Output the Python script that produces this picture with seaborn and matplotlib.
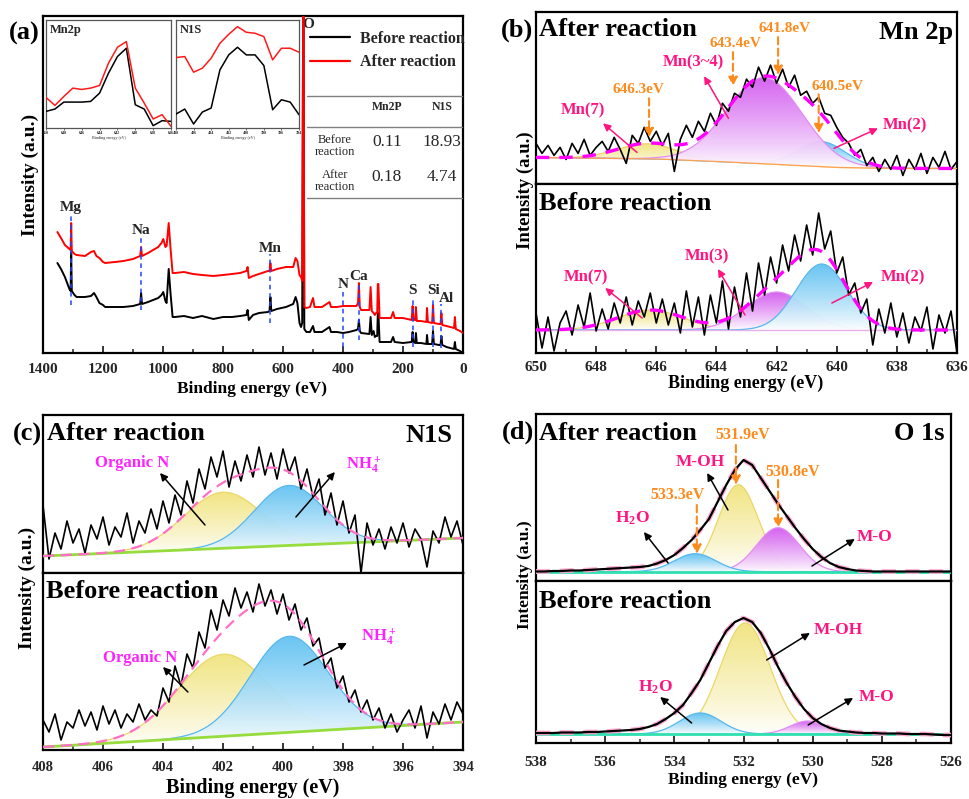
import numpy as np
import matplotlib
matplotlib.use('Agg')
import matplotlib.pyplot as plt
import seaborn as sns
from matplotlib.ticker import MultipleLocator, NullLocator
from matplotlib.colors import to_rgb
from matplotlib.lines import Line2D

# ======================= DATA =======================
# (a) survey spectra
survey_be = [1352, 1340, 1327, 1312, 1308, 1306, 1304, 1295, 1288, 1260,
             1240, 1230, 1222, 1212, 1200, 1193, 1160, 1132, 1100, 1076,
             1073, 1070, 1050, 1016, 1005, 999, 992, 988, 981, 975,
             968, 960, 930, 900, 870, 832, 800, 770, 743, 722,
             718, 714, 700, 680, 650, 645, 642, 639, 620, 590,
             566, 558, 552, 545, 540, 536, 532, 529, 522, 510,
             500, 495, 470, 445, 440, 420, 400, 380, 355, 350,
             347, 344, 340, 312, 308, 304, 298, 294, 290, 286,
             284, 282, 278, 270, 240, 233, 228, 200, 171, 168,
             165, 159, 157, 154, 140, 122, 120, 117, 103, 100,
             97, 80, 75, 72, 69, 55, 30, 27, 24, 10, 0]
survey_before = [90, 84, 76, 64, 62, 101, 62, 58, 56, 56,
                 57, 60, 56, 50, 48, 46, 46, 46, 47, 49,
                 60, 49, 51, 55, 58, 61, 52, 50, 84, 60,
                 36, 36, 37, 35, 37, 34, 36, 36, 37, 38,
                 43, 33, 38, 40, 41, 42, 56, 42, 44, 46,
                 49, 56, 50, 30, 26, 30, 420, 24, 21, 21,
                 27, 21, 21, 26, 21, 21, 20, 21, 23, 24,
                 33, 22, 20, 19, 36, 18, 22, 16, 17, 17,
                 40, 40, 11, 11, 11, 16, 11, 10, 11, 21,
                 11, 10, 20, 10, 10, 9, 18, 9, 9, 22,
                 9, 8, 8, 17, 8, 6, 4, 11, 4, 2, 0]
survey_after = [121, 115, 108, 104, 103, 130, 102, 99, 98, 97,
                101, 102, 97, 95, 91, 90, 91, 92, 94, 97,
                106, 97, 100, 106, 110, 114, 106, 107, 130, 105,
                80, 80, 81, 79, 78, 77, 78, 79, 80, 82,
                86, 75, 77, 79, 82, 82, 90, 82, 84, 86,
                86, 95, 92, 78, 76, 72, 420, 46, 45, 46,
                55, 46, 46, 51, 46, 46, 47, 47, 47, 50,
                70, 46, 43, 43, 66, 42, 40, 38, 40, 40,
                69, 69, 35, 35, 35, 41, 35, 35, 33, 47,
                33, 33, 46, 32, 32, 31, 45, 31, 30, 48,
                30, 29, 29, 40, 28, 27, 25, 36, 24, 22, 20]
elements = ['Mg', 'Na', 'Mn', 'N', 'Ca', 'S', 'Si', 'Al']
element_be = [1306, 1073, 642, 400, 347, 168, 100, 72]
element_lo = [48, 43, 30, 6, 13, 6, 6, 5]
element_hi = [140, 116, 99, 62, 71, 56, 56, 49]

# (a) insets
inset_mn_be = [650, 649, 648, 647, 646, 645, 644, 643, 642, 641, 640, 639, 638, 637, 636]
inset_mn_before = [50, 57, 78, 78, 78, 80, 105, 165, 215, 240, 70, 57, 7, 22, 20]
inset_mn_after = [92, 68, 95, 120, 116, 120, 128, 195, 243, 260, 120, 75, 27, 40, 5]
inset_n_be = [408, 407, 406, 405, 404, 403, 402, 401, 400, 399, 398, 397, 396, 395, 394]
inset_n_before = [42, 57, 12, 48, 60, 175, 220, 243, 220, 220, 188, 55, 85, 78, 40]
inset_n_after = [212, 215, 168, 180, 210, 255, 282, 305, 288, 285, 275, 205, 240, 240, 228]

table_cols = ['Mn2P', 'N1S']
table_rows = ['Before\nreaction', 'After\nreaction']
table_vals = [['0.11', '18.93'], ['0.18', '4.74']]

# (b) Mn 2p, 650 -> 636 eV in 0.2 eV steps
mn_after = [40, 30, 38, 28, 36, 24, 40, 30, 44, 28,
            36, 42, 32, 46, 34, 20, 48, 40, 56, 42,
            52, 38, 50, 12, 44, 58, 46, 62, 52, 70,
            58, 80, 72, 90, 86, 104, 96, 116, 102, 118,
            100, 114, 96, 108, 88, 92, 80, 86, 70, 68,
            56, 46, 40, 28, 34, 18, 26, 12, 24, 14,
            28, 8, 24, 14, 30, 10, 26, 16, 32, 14,
            22]
mn_before = [40, 5, 36, 2, 30, 42, 18, 48, 26, 60,
             22, 44, 24, 50, 30, 56, 28, 52, 36, 60,
             30, 54, 28, 50, 20, 62, 26, 56, 18, 58,
             30, 72, 24, 66, 36, 80, 42, 90, 58, 96,
             70, 108, 82, 118, 92, 128, 98, 140, 104, 122,
             80, 96, 58, 70, 40, 54, 8, 44, 20, 50,
             16, 40, 10, 36, 22, 46, 4, 38, 20, 42,
             0]
mn_peaks = ['Mn(7)', 'Mn(3~4)', 'Mn(2)']
mn_after_center = [646.3, 642.4, 640.5]
mn_after_height = [15, 86, 25]
mn_after_width = [1.0, 1.25, 0.8]
mn_after_base_be = [650, 646, 644, 642, 640, 638, 636]
mn_after_base = [26, 24.5, 22, 19, 16, 15, 15]
mn_before_center = [646.2, 642.0, 640.5]
mn_before_height = [20, 38, 66]
mn_before_width = [1.1, 1.0, 0.85]
mn_before_base = 23

# (c) N 1s, 408 -> 394 eV in 0.2 eV steps
n_after = [68, 14, 40, 24, 52, 30, 44, 20, 48, 34,
           56, 28, 46, 36, 60, 30, 52, 40, 64, 44,
           72, 50, 78, 58, 92, 70, 104, 84, 116, 96,
           122, 86, 112, 92, 118, 96, 126, 98, 120, 94,
           124, 100, 116, 84, 104, 76, 94, 58, 80, 48,
           72, 40, 58, 0, 50, 28, 44, 24, 46, 30,
           50, 26, 44, 34, 6, 42, 30, 56, 36, 52,
           28]
n_before = [30, 18, 36, 10, 28, 22, 40, 24, 38, 20,
            44, 26, 40, 22, 36, 28, 46, 30, 40, 34,
            62, 48, 84, 64, 96, 82, 118, 102, 140, 120,
            150, 134, 162, 142, 158, 138, 166, 144, 160, 136,
            156, 130, 146, 120, 132, 104, 112, 82, 92, 62,
            74, 48, 60, 38, 50, 30, 42, 22, 36, 18,
            30, 40, 22, 44, 12, 38, 26, 46, 30, 48,
            36]
n_center = [402.0, 399.8]
n_after_height = [56, 60]
n_after_width = [1.3, 1.15]
n_after_base = [17, 35]
n_before_height = [82, 96]
n_before_width = [1.5, 1.3]
n_before_base = [3, 28]

# (d) O 1s, 538 -> 526 eV in 0.25 eV steps
o_after = [9.5, 9.5, 10, 10, 10.5, 10.5, 11, 11.5, 12, 12.5,
           13, 13.5, 14, 15, 17.5, 21, 26, 33, 41, 51,
           62, 79, 96, 111, 121, 116, 103, 90, 77, 65,
           53, 42, 32, 24, 18, 14, 12, 10.5, 10, 9.5,
           9.5, 9.5, 9.5, 9.5, 9.5, 9.5, 9.5, 9.5, 9.5]
o_before = [10, 10, 10, 10.5, 10.5, 10.5, 11, 11, 11.5, 12,
            12.5, 13, 14, 16, 19, 24, 30, 38, 50, 63,
            80, 97, 112, 121, 125, 121, 110, 94, 76, 60,
            46, 34, 25, 19, 15, 12.5, 11.5, 10.5, 10, 10,
            9.5, 9.5, 9.5, 9, 9, 9, 8.5, 8, 8]
o_after_center = [533.4, 532.15, 531.0]
o_after_height = [18, 87, 44]
o_after_width = [0.6, 0.58, 0.62]
o_after_base = 9.3
o_before_center = [533.25, 531.95, 530.15]
o_before_height = [21, 111, 13]
o_before_width = [0.6, 0.72, 0.5]
o_before_base = 9

# ======================= STYLE =======================
sns.set_style('ticks')
plt.rcParams['font.family'] = ['Liberation Serif', 'DejaVu Serif']
plt.rcParams['font.weight'] = 'bold'
plt.rcParams['mathtext.fontset'] = 'custom'
plt.rcParams['mathtext.rm'] = 'Liberation Serif:bold'
plt.rcParams['mathtext.it'] = 'Liberation Serif:bold'
plt.rcParams['mathtext.bf'] = 'Liberation Serif:bold'

W, H = 969, 799
fig = plt.figure(figsize=(W / 100, H / 100), dpi=100)
fig.patch.set_facecolor('white')

YEL, YEL_E = '#f1e47e', '#e9d868'
PUR, PUR_E = '#d35cf0', '#e38cf5'
BLU, BLU_E = '#62c2f2', '#56b8ee'
PINK = '#ff1480'
MAG = '#ff22ff'
ORANGE = '#ff8a1c'


def rect(x0, y0, x1, y1):
    return [x0 / W, 1 - y1 / H, (x1 - x0) / W, (y1 - y0) / H]


def ftext(px, py, s, size, ha='center', va='center', color='black', weight='bold', **kw):
    fig.text(px / W, 1 - py / H, s, fontsize=size, ha=ha, va=va, color=color,
             fontweight=weight, **kw)


def style_axis(ax, xlim, ylim, major=2, minor=1, labels=True, labelsize=11, pad=6):
    ax.set_xlim(*xlim)
    ax.set_ylim(*ylim)
    ax.set_yticks([])
    ax.set_xlabel('')
    ax.set_ylabel('')
    ax.set_facecolor('white')
    for sp in ax.spines.values():
        sp.set_visible(True)
        sp.set_linewidth(1.6)
        sp.set_color('black')
    if labels:
        ax.xaxis.set_major_locator(MultipleLocator(major))
        ax.xaxis.set_minor_locator(MultipleLocator(minor))
        ax.tick_params(axis='x', which='major', direction='in', length=5, width=1.3,
                       labelsize=labelsize, pad=pad, top=False)
        ax.tick_params(axis='x', which='minor', direction='in', length=3, width=1.1, top=False)
        for t in ax.get_xticklabels():
            t.set_fontweight('bold')
    else:
        ax.set_xticks([])
        ax.xaxis.set_minor_locator(NullLocator())


def gauss(x, c, h, s):
    return h * np.exp(-(x - c) ** 2 / (2 * s * s))


def grad_fill(ax, x, base, comp, color, edge, z=2.0):
    top = base + comp
    poly = ax.fill_between(x, base, top, facecolor='none', edgecolor='none', zorder=z)
    rgb = np.array(to_rgb(color))
    t = np.linspace(0, 1, 256)[:, None] ** 0.85
    cols = (1 - t) * np.ones(3) + t * rgb
    img = np.concatenate([cols, np.full((256, 1), 0.95)], axis=1)[:, None, :]
    im = ax.imshow(img, extent=(x.min(), x.max(), base.min(), top.max()), origin='lower',
                   aspect='auto', zorder=z, interpolation='bilinear')
    im.set_clip_path(poly.get_paths()[0], transform=ax.transData)
    ax.plot(x, top, color=edge, lw=0.9, zorder=z + 0.05)


def arrow(ax, tail, head, color, lw=1.1, ls='-', ms=11):
    ax.annotate('', xy=head, xytext=tail, annotation_clip=False,
                arrowprops=dict(arrowstyle='-|>', color=color, lw=lw, linestyle=ls,
                                mutation_scale=ms, shrinkA=0, shrinkB=0), zorder=8)


def oarrow(ax, x, y0, y1):
    ax.annotate('', xy=(x, y1), xytext=(x, y0), annotation_clip=False,
                arrowprops=dict(arrowstyle='-|>', color=ORANGE, lw=1.5, linestyle=(0, (3.5, 2)),
                                mutation_scale=13, shrinkA=0, shrinkB=0), zorder=8)


def spectrum(ax, x, y, color='black', lw=1.2, z=4, ls='-'):
    sns.lineplot(x=np.asarray(x, float), y=np.asarray(y, float), ax=ax, color=color,
                 lw=lw, estimator=None, sort=False, zorder=z, linestyle=ls)


# ======================= (a) SURVEY =======================
axA = fig.add_axes(rect(43, 16, 463, 353))
spectrum(axA, survey_be, survey_before, 'black', 1.4, 3)
spectrum(axA, survey_be, survey_after, '#ff0000', 1.4, 4)
for el, be, lo, hi in zip(elements, element_be, element_lo, element_hi):
    axA.plot([be, be], [lo, hi], color='#2244ff', lw=1.1, ls=(0, (3, 2.5)), zorder=5)
    dx = -17 if el == 'Al' else 0
    axA.text(be + dx, hi + 6, el, fontsize=11, ha='center', va='center', zorder=6)
style_axis(axA, (1400, 0), (0, 337), major=200, minor=100, labelsize=11, pad=7)
axA.text((308 - 43) / 420, (353 - 24) / 337, 'O', transform=axA.transAxes, fontsize=11,
         ha='center', va='center')

leg = axA.legend(handles=[Line2D([], [], color='black', lw=1.6), Line2D([], [], color='red', lw=1.6)],
                 labels=['Before reaction', 'After reaction'], loc='upper left',
                 bbox_to_anchor=((310 - 43) / 420, (353 - 31) / 337), frameon=False,
                 borderaxespad=0, borderpad=0, handlelength=2.5, handletextpad=0.6,
                 labelspacing=0.45, prop={'weight': 'bold', 'size': 11.5,
                                          'family': ['Liberation Serif']})


def ax_a(px, py):
    return ((px - 43) / 420, (353 - py) / 337)


for yy in (96, 127, 198):
    axA.plot([ax_a(307, 0)[0], ax_a(462, 0)[0]], [ax_a(0, yy)[1]] * 2, color='#808080', lw=1.0,
             transform=axA.transAxes, clip_on=False, zorder=6)
for col, cx in zip(table_cols, (387, 442)):
    axA.text(*ax_a(cx, 107), col, transform=axA.transAxes, fontsize=8.5, ha='center', va='center')
for r, (row, ry) in enumerate(zip(table_rows, (146, 181))):
    axA.text(*ax_a(335, ry), row, transform=axA.transAxes, fontsize=9, ha='center', va='center',
             fontweight='normal', linespacing=1.05)
    for c, cx in enumerate((387, 442)):
        axA.text(*ax_a(cx, ry - 4), table_vals[r][c], transform=axA.transAxes, fontsize=12.5,
                 ha='center', va='center', fontweight='normal')

# insets
for (x0, x1), be, before, after, title, xl in (
        ((46, 171), inset_mn_be, inset_mn_before, inset_mn_after, 'Mn2p', (650, 636)),
        ((176, 299), inset_n_be, inset_n_before, inset_n_after, 'N1S', (408, 394))):
    ins = fig.add_axes(rect(x0, 20, x1, 128))
    spectrum(ins, be, before, 'black', 1.1, 3)
    spectrum(ins, be, after, '#ff1a1a', 1.1, 4)
    ins.set_xlim(*xl)
    ins.set_ylim(0, 325)
    ins.set_yticks([])
    ins.set_ylabel('')
    ins.xaxis.set_major_locator(MultipleLocator(2))
    ins.tick_params(axis='x', labelsize=3, length=1.5, width=0.5, pad=0.8, direction='out')
    ins.set_xlabel('Binding energy (eV)', fontsize=3, labelpad=0.5, fontweight='normal')
    for sp in ins.spines.values():
        sp.set_visible(True)
        sp.set_linewidth(0.9)
        sp.set_color('#555555')
    ins.text(0.03, 0.96, title, transform=ins.transAxes, fontsize=9, ha='left', va='top')

ftext(24, 33, '(a)', 19)
ftext(30, 175, 'Intensity (a.u.)', 14, rotation=90)
ftext(252, 389, 'Binding energy (eV)', 12.5)

# ======================= (b) Mn 2p =======================
mn_be = np.linspace(650, 636, len(mn_after))
xs = np.linspace(650, 636, 600)

axB1 = fig.add_axes(rect(536, 12, 957, 183.5))
baseB1 = np.interp(xs, mn_after_base_be[::-1], mn_after_base[::-1])
compB1 = [gauss(xs, c, h, s) for c, h, s in zip(mn_after_center, mn_after_height, mn_after_width)]
grad_fill(axB1, xs, baseB1, compB1[0], YEL, YEL_E, 2.0)
grad_fill(axB1, xs, baseB1, compB1[2], BLU, BLU_E, 2.1)
grad_fill(axB1, xs, baseB1, compB1[1], PUR, PUR_E, 2.2)
axB1.plot(xs, baseB1, color='#ffa050', lw=0.9, zorder=3)
spectrum(axB1, mn_be, mn_after, 'black', 1.2, 4)
axB1.plot(xs, baseB1 + sum(compB1), color='#ff00ff', lw=2.4, ls=(0, (4, 3)), zorder=5)
style_axis(axB1, (650, 636), (0, 171), labels=False)

axB2 = fig.add_axes(rect(536, 183.5, 957, 353))
baseB2 = np.full_like(xs, mn_before_base)
compB2 = [gauss(xs, c, h, s) for c, h, s in zip(mn_before_center, mn_before_height, mn_before_width)]
grad_fill(axB2, xs, baseB2, compB2[0], YEL, YEL_E, 2.0)
grad_fill(axB2, xs, baseB2, compB2[1], PUR, PUR_E, 2.1)
grad_fill(axB2, xs, baseB2, compB2[2], BLU, BLU_E, 2.2)
axB2.plot(xs, baseB2, color='#e8b0e8', lw=1.0, zorder=3)
spectrum(axB2, mn_be, mn_before, 'black', 1.2, 4)
axB2.plot(xs, baseB2 + sum(compB2), color='#ff00ff', lw=2.4, ls=(0, (4, 3)), zorder=5)
style_axis(axB2, (650, 636), (0, 169.5), labelsize=11, pad=6)

# annotations (b)
axB1.text(644.78, 121, 'Mn(3~4)', color=PINK, fontsize=12, ha='center', va='center', zorder=9)
arrow(axB1, (643.6, 65), (644.41, 107), PINK)
axB1.text(648.44, 73, 'Mn(7)', color=PINK, fontsize=12, ha='center', va='center', zorder=9)
arrow(axB1, (646.64, 31), (647.77, 60), PINK)
axB1.text(637.73, 58, 'Mn(2)', color=PINK, fontsize=12, ha='center', va='center', zorder=9)
arrow(axB1, (640.09, 35), (638.63, 55), PINK)
for lab, tx, ty, ax_x, y0, y1 in (('641.8eV', 641.72, 155, 641.95, 146, 108),
                                  ('643.4eV', 643.38, 140, 643.45, 131, 97),
                                  ('646.3eV', 646.61, 94, 646.24, 85, 46),
                                  ('640.5eV', 639.96, 97, 640.6, 89, 50)):
    axB1.text(tx, ty, lab, color=ORANGE, fontsize=11, ha='center', va='center', zorder=9)
    oarrow(axB1, ax_x, y0, y1)
axB2.text(648.34, 76, 'Mn(7)', color=PINK, fontsize=12, ha='center', va='center', zorder=9)
arrow(axB2, (646.47, 35), (647.7, 65), PINK)
axB2.text(644.31, 97, 'Mn(3)', color=PINK, fontsize=12, ha='center', va='center', zorder=9)
arrow(axB2, (643.05, 38), (643.95, 84), PINK)
axB2.text(637.8, 76, 'Mn(2)', color=PINK, fontsize=12, ha='center', va='center', zorder=9)
arrow(axB2, (640.16, 50), (638.79, 71), PINK)

ftext(517, 30, '(b)', 19)
ftext(539, 30, 'After reaction', 19, ha='left')
ftext(953, 32, 'Mn 2p', 19, ha='right')
ftext(539, 203, 'Before reaction', 19, ha='left')
ftext(525, 190, 'Intensity (a.u.)', 13.5, rotation=90)
ftext(746, 383, 'Binding energy (eV)', 13)

# ======================= (c) N 1s =======================
n_be = np.linspace(408, 394, len(n_after))
xn = np.linspace(408, 394, 600)

axC1 = fig.add_axes(rect(43, 415, 463, 573))
baseC1 = n_after_base[0] + (n_after_base[1] - n_after_base[0]) * (408 - xn) / 14
compC1 = [gauss(xn, c, h, s) for c, h, s in zip(n_center, n_after_height, n_after_width)]
grad_fill(axC1, xn, baseC1, compC1[0], YEL, YEL_E, 2.0)
grad_fill(axC1, xn, baseC1, compC1[1], BLU, BLU_E, 2.1)
axC1.plot(xn, baseC1, color='#96dc3c', lw=2.0, zorder=3)
spectrum(axC1, n_be, n_after, 'black', 1.2, 4)
axC1.plot(xn, baseC1 + sum(compC1), color='#ff6ec7', lw=1.6, ls=(0, (5, 3)), zorder=5)
style_axis(axC1, (408, 394), (0, 158), labels=False)

axC2 = fig.add_axes(rect(43, 573, 463, 750))
baseC2 = n_before_base[0] + (n_before_base[1] - n_before_base[0]) * (408 - xn) / 14
compC2 = [gauss(xn, c, h, s) for c, h, s in zip(n_center, n_before_height, n_before_width)]
grad_fill(axC2, xn, baseC2, compC2[0], YEL, YEL_E, 2.0)
grad_fill(axC2, xn, baseC2, compC2[1], BLU, BLU_E, 2.1)
axC2.plot(xn, baseC2, color='#96dc3c', lw=2.0, zorder=3)
spectrum(axC2, n_be, n_before, 'black', 1.2, 4)
axC2.plot(xn, baseC2 + sum(compC2), color='#ff6ec7', lw=1.6, ls=(0, (5, 3)), zorder=5)
style_axis(axC2, (408, 394), (0, 177), labelsize=10.5, pad=8)

axC1.text(405.03, 110, 'Organic N', color=MAG, fontsize=12, ha='center', va='center', zorder=9)
arrow(axC1, (402.6, 48), (404.1, 100), 'black')
axC1.text(397.3, 108, r'NH$_4^+$', color=MAG, fontsize=12, ha='center', va='center', zorder=9)
arrow(axC1, (399.57, 56), (398.27, 101), 'black')
axC2.text(404.77, 92, 'Organic N', color=MAG, fontsize=12, ha='center', va='center', zorder=9)
arrow(axC2, (403.17, 58), (404.0, 83), 'black')
axC2.text(396.8, 113, r'NH$_4^+$', color=MAG, fontsize=12, ha='center', va='center', zorder=9)
arrow(axC2, (399.3, 85), (397.87, 107), 'black')

ftext(27, 434, '(c)', 19)
ftext(47, 434, 'After reaction', 19, ha='left')
ftext(452, 435, 'N1S', 19, ha='right')
ftext(46, 592, 'Before reaction', 19, ha='left')
ftext(27, 588, 'Intensity (a.u.)', 14, rotation=90)
ftext(253, 788, 'Binding energy (eV)', 14.5)

# ======================= (d) O 1s =======================
o_be = np.linspace(538, 526, len(o_after))
xo = np.linspace(538, 526, 600)

axD1 = fig.add_axes(rect(536, 414, 951, 581))
baseD1 = np.full_like(xo, o_after_base)
compD1 = [gauss(xo, c, h, s) for c, h, s in zip(o_after_center, o_after_height, o_after_width)]
grad_fill(axD1, xo, baseD1, compD1[1], YEL, YEL_E, 2.0)
grad_fill(axD1, xo, baseD1, compD1[2], PUR, PUR_E, 2.1)
grad_fill(axD1, xo, baseD1, compD1[0], BLU, BLU_E, 2.2)
axD1.plot(xo, baseD1, color='#2fe0b0', lw=2.0, zorder=3)
spectrum(axD1, o_be, o_after, '#ffa8d2', 3.4, 4, ls=(0, (3, 2)))
spectrum(axD1, o_be, o_after, 'black', 1.6, 5)
style_axis(axD1, (538, 526), (0, 167), labels=False)

axD2 = fig.add_axes(rect(536, 581, 951, 743))
baseD2 = np.full_like(xo, o_before_base)
compD2 = [gauss(xo, c, h, s) for c, h, s in zip(o_before_center, o_before_height, o_before_width)]
grad_fill(axD2, xo, baseD2, compD2[1], YEL, YEL_E, 2.0)
grad_fill(axD2, xo, baseD2, compD2[2], PUR, PUR_E, 2.1)
grad_fill(axD2, xo, baseD2, compD2[0], BLU, BLU_E, 2.2)
axD2.plot(xo, baseD2, color='#2fe0b0', lw=2.0, zorder=3)
spectrum(axD2, o_be, o_before, '#ffa8d2', 3.4, 4, ls=(0, (3, 2)))
spectrum(axD2, o_be, o_before, 'black', 1.6, 5)
style_axis(axD2, (538, 526), (0, 162), labelsize=11, pad=9)

axD1.text(533.26, 119, 'M-OH', color=PINK, fontsize=12.5, ha='center', va='center', zorder=9)
arrow(axD1, (532.45, 71), (533.05, 108), 'black')
axD1.text(535.2, 63, r'H$_2$O', color=PINK, fontsize=12.5, ha='center', va='center', zorder=9)
arrow(axD1, (534.18, 18), (534.88, 49), 'black')
axD1.text(528.2, 44, 'M-O', color=PINK, fontsize=12.5, ha='center', va='center', zorder=9)
arrow(axD1, (530.02, 15), (528.78, 42), 'black')
for lab, tx, ty, ax_x, y0, y1 in (('531.9eV', 532.01, 146, 532.22, 136, 96),
                                  ('530.8eV', 530.57, 109, 531.0, 101, 53),
                                  ('533.3eV', 533.92, 86, 533.35, 76, 27)):
    axD1.text(tx, ty, lab, color=ORANGE, fontsize=11.5, ha='center', va='center', zorder=9)
    oarrow(axD1, ax_x, y0, y1)
axD2.text(529.27, 113, 'M-OH', color=PINK, fontsize=12.5, ha='center', va='center', zorder=9)
arrow(axD2, (531.33, 83), (530.08, 110), 'black')
axD2.text(534.56, 56, r'H$_2$O', color=PINK, fontsize=12.5, ha='center', va='center', zorder=9)
arrow(axD2, (533.5, 20), (534.41, 46), 'black')
axD2.text(528.14, 46, 'M-O', color=PINK, fontsize=12.5, ha='center', va='center', zorder=9)
arrow(axD2, (530.13, 18), (528.83, 45), 'black')

ftext(518, 432, '(d)', 19)
ftext(539, 433, 'After reaction', 19, ha='left')
ftext(945, 433, 'O 1s', 19, ha='right')
ftext(539, 602, 'Before reaction', 19, ha='left')
ftext(525, 575, 'Intensity (a.u.)', 12.5, rotation=90)
ftext(743, 780, 'Binding energy (eV)', 12.5)

fig.savefig('out.png', dpi=100)
